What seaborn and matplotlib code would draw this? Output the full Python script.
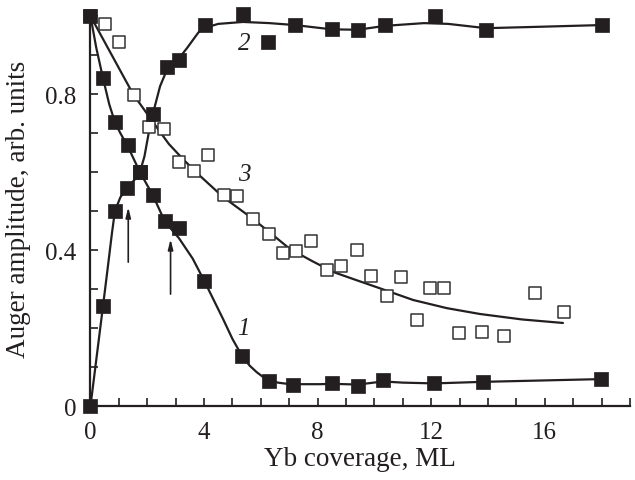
import matplotlib
matplotlib.use("Agg")
import matplotlib.pyplot as plt
import seaborn as sns
import pandas as pd
import numpy as np

# ---- measured points ----
c1_x = [0, 0.44, 0.86, 1.32, 1.74, 2.2, 2.62, 3.12, 4.0, 5.34, 6.29, 7.13, 8.5, 9.42, 10.3, 12.1, 13.82, 17.97]
c1_y = [1.0, 0.841, 0.728, 0.67, 0.60, 0.54, 0.475, 0.456, 0.32, 0.128, 0.064, 0.054, 0.059, 0.051, 0.067, 0.059, 0.062, 0.069]

c2_x = [0, 0.44, 0.86, 1.29, 1.74, 2.2, 2.69, 3.12, 4.03, 5.37, 6.25, 7.2, 8.5, 9.42, 10.37, 12.13, 13.93, 18.0]
c2_y = [0.0, 0.256, 0.50, 0.56, 0.60, 0.75, 0.87, 0.887, 0.977, 1.005, 0.933, 0.977, 0.967, 0.964, 0.977, 1.0, 0.964, 0.977]

c3_x = [0, 0.51, 1.01, 1.53, 2.06, 2.59, 3.12, 3.65, 4.14, 4.7, 5.16, 5.72, 6.29, 6.78, 7.24, 7.76, 8.33, 8.82,
        9.39, 9.88, 10.44, 10.93, 11.5, 11.95, 12.45, 12.98, 13.79, 14.56, 15.65, 16.67]
c3_y = [1.0, 0.98, 0.933, 0.797, 0.715, 0.710, 0.626, 0.603, 0.644, 0.541, 0.539, 0.48, 0.441, 0.392, 0.397, 0.423,
        0.349, 0.359, 0.40, 0.333, 0.282, 0.331, 0.22, 0.302, 0.302, 0.187, 0.19, 0.18, 0.29, 0.241]

# ---- fitted curves (knots) ----
f1_x = [0, 0.2, 0.44, 0.66, 0.86, 1.05, 1.32, 1.74, 2.2, 2.62, 3.12, 3.6, 4.0, 4.67, 5.0, 5.34, 5.6, 5.85, 6.05,
        6.29, 6.6, 7.02, 8.1, 8.5, 9.42, 10.3, 11.0, 12.1, 13.82, 17.97]
f1_y = [1.0, 0.92, 0.841, 0.774, 0.728, 0.70, 0.665, 0.60, 0.54, 0.473, 0.43, 0.378, 0.322, 0.223, 0.172, 0.128, 0.104,
        0.087, 0.076, 0.066, 0.060, 0.056, 0.056, 0.057, 0.055, 0.063, 0.060, 0.058, 0.062, 0.069]

f2_x = [0, 0.44, 0.6, 0.75, 0.86, 1.05, 1.29, 1.55, 1.74, 1.9, 2.05, 2.2, 2.45, 2.69, 2.9, 3.12, 3.4, 3.8, 4.03,
        4.5, 5.37, 6.3, 7.2, 8.5, 9.42, 10.37, 11.75, 12.6, 13.93, 15.5, 18.0]
f2_y = [0.0, 0.256, 0.35, 0.44, 0.50, 0.535, 0.56, 0.58, 0.60, 0.64, 0.70, 0.75, 0.82, 0.862, 0.878, 0.892, 0.918,
        0.958, 0.97, 0.98, 0.985, 0.982, 0.977, 0.966, 0.965, 0.975, 0.982, 0.98, 0.969, 0.972, 0.977]

f3_x = [0, 0.75, 1.5, 2.38, 2.76, 3.3, 3.86, 4.67, 5.72, 6.4, 7.02, 7.8, 8.54, 9.24, 10.19, 11.36, 12.55, 13.72, 15.2, 16.64]
f3_y = [1.0, 0.9, 0.80, 0.71, 0.672, 0.63, 0.59, 0.536, 0.48, 0.44, 0.403, 0.372, 0.344, 0.326, 0.302, 0.272, 0.251,
        0.236, 0.222, 0.213]

curve_labels = ["1", "2", "3"]
label_x = [5.4, 5.4, 5.4]
label_y = [0.20, 0.93, 0.595]

arrow_x = [1.33, 2.82]
arrow_y0 = [0.369, 0.287]
arrow_y1 = [0.51, 0.428]

x_ticks = [0, 4, 8, 12, 16]
y_ticks = [0, 0.4, 0.8]
y_tick_labels = ["0", "0.4", "0.8"]

sns.set_style("ticks")
plt.rcParams["font.family"] = ["Liberation Serif", "DejaVu Serif"]

fig = plt.figure(figsize=(6.35, 4.81), dpi=100)
ax = fig.add_axes([0.1425, 0.1538, 0.8496, 0.8212])

ink = "#231f20"
lw = 1.6

for fx, fy in [(f1_x, f1_y), (f2_x, f2_y), (f3_x, f3_y)]:
    d = pd.DataFrame({"x": fx, "y": fy})
    sns.lineplot(data=d, x="x", y="y", ax=ax, color=ink, lw=lw, sort=False, estimator=None)

d3 = pd.DataFrame({"x": c3_x, "y": c3_y})
sns.scatterplot(data=d3, x="x", y="y", ax=ax, marker="s", s=68, facecolor="white",
                edgecolor="#333333", linewidth=1.1, zorder=3, clip_on=False)
for cx, cy in [(c1_x, c1_y), (c2_x, c2_y)]:
    d = pd.DataFrame({"x": cx, "y": cy})
    sns.scatterplot(data=d, x="x", y="y", ax=ax, marker="s", s=95, color=ink,
                    edgecolor=ink, linewidth=0.5, zorder=4, clip_on=False)

for t, lx, ly in zip(curve_labels, label_x, label_y):
    ax.text(lx, ly, t, fontsize=18, style="italic", ha="center", va="center", color=ink)

for axx, y0, y1 in zip(arrow_x, arrow_y0, arrow_y1):
    ax.annotate("", xy=(axx, y1), xytext=(axx, y0),
                arrowprops=dict(arrowstyle="-|>,head_length=0.6,head_width=0.15", color=ink, lw=1.2,
                                shrinkA=0, shrinkB=0))

ax.set_xlim(0, 19)
ax.set_ylim(0, 1.013)
ax.set_xticks(np.arange(0, 20, 1), minor=True)
ax.set_xticks(x_ticks)
ax.set_yticks(np.arange(0, 1.01, 0.1), minor=True)
ax.set_yticks(y_ticks)
ax.set_yticklabels(y_tick_labels)
ax.tick_params(which="both", direction="in", length=6, width=1.2, color=ink, labelsize=18, labelcolor=ink)
ax.tick_params(axis="x", pad=11)
ax.tick_params(axis="y", pad=10)
for s in ["top", "right"]:
    ax.spines[s].set_visible(False)
for s in ["left", "bottom"]:
    ax.spines[s].set_linewidth(1.6)
    ax.spines[s].set_color(ink)

ax.set_xlabel("Yb coverage, ML", fontsize=19.5, color=ink, labelpad=2)
ax.set_ylabel("Auger amplitude, arb. units", fontsize=19.5, color=ink, labelpad=10)

fig.savefig("out.png", dpi=100)
